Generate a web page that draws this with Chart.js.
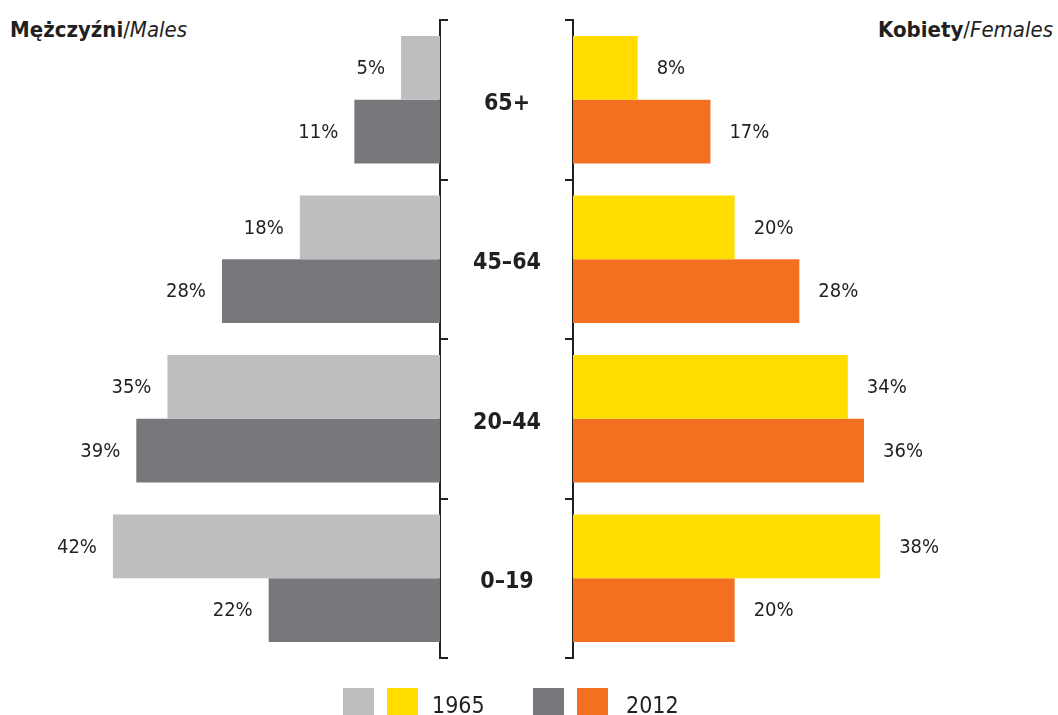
<!DOCTYPE html>
<html>
<head>
<meta charset="utf-8">
<script src="https://cdn.jsdelivr.net/npm/chart.js@4/dist/chart.umd.min.js"></script>
<style>
  html, body { margin: 0; padding: 0; background: #fff; }
  #wrap { position: relative; width: 1058px; height: 715px; overflow: hidden; font-family: 'Liberation Sans Narrow', 'DejaVu Sans Condensed', 'Roboto Condensed', 'Liberation Sans', sans-serif; color: #231f20; }
  .box { position: absolute; top: 0; height: 715px; }
  .title { position: absolute; top: 15px; font-size: 22px; line-height: 30px; white-space: nowrap; }
  .title b { font-weight: bold; }
  .title i { font-style: italic; }
  .sw { position: absolute; top: 688px; width: 31px; height: 40px; }
  .lt { position: absolute; top: 689px; font-size: 23px; line-height: 32px; }
</style>
</head>
<body>
<div id="wrap">
  <div class="title" style="left:10px;"><b>Mężczyźni</b>/<i>Males</i></div>
  <div class="title" style="right:5px;"><b>Kobiety</b>/<i>Females</i></div>
  <div class="box" style="left:0;width:448px;"><canvas id="males"></canvas></div>
  <div class="box" style="left:441px;width:617px;"><canvas id="females"></canvas></div>
  <div class="sw" style="left:343px;background:#bcbec0;"></div>
  <div class="sw" style="left:387px;background:#ffdd00;"></div>
  <div class="lt" style="left:432px;">1965</div>
  <div class="sw" style="left:533px;background:#77787b;"></div>
  <div class="sw" style="left:577px;background:#f37021;"></div>
  <div class="lt" style="left:626px;">2012</div>
</div>
<script>
const ageGroups = ['65+', '45–64', '20–44', '0–19'];
const years = ['1965', '2012'];
const males1965 = [5, 18, 35, 42];
const males2012 = [11, 28, 39, 22];
const females1965 = [8, 20, 34, 38];
const females2012 = [17, 28, 36, 20];

const FONT = "'Liberation Sans Narrow', 'DejaVu Sans Condensed', 'Roboto Condensed', 'Liberation Sans', sans-serif";
const INK = '#231f20';

const valueLabels = {
  id: 'valueLabels',
  afterDatasetsDraw(chart, args, opts) {
    const ctx = chart.ctx;
    ctx.save();
    ctx.font = '20px ' + FONT;
    ctx.fillStyle = INK;
    ctx.textBaseline = 'middle';
    chart.data.datasets.forEach((ds, di) => {
      const meta = chart.getDatasetMeta(di);
      meta.data.forEach((bar, i) => {
        const txt = ds.data[i] + '%';
        if (opts.side === 'left') {
          ctx.textAlign = 'right';
          ctx.fillText(txt, bar.x - 16, bar.y + 1);
        } else {
          ctx.textAlign = 'left';
          ctx.fillText(txt, bar.x + 19, bar.y + 1);
        }
      });
    });
    ctx.restore();
  }
};

const centerLabels = {
  id: 'centerLabels',
  afterDraw(chart) {
    const ctx = chart.ctx;
    const y = chart.scales.y;
    ctx.save();
    ctx.font = 'bold 23px ' + FONT;
    ctx.fillStyle = INK;
    ctx.textAlign = 'center';
    ctx.textBaseline = 'middle';
    const cx = chart.chartArea.left / 2;
    chart.data.labels.forEach((lab, i) => {
      ctx.fillText(lab, cx, y.getPixelForValue(i) + 4);
    });
    ctx.restore();
  }
};

function yAxis(pos) {
  return {
    position: pos,
    grid: { drawOnChartArea: false, drawTicks: true, tickLength: 8, color: INK, lineWidth: 2 },
    border: { display: true, color: INK, width: 2 },
    ticks: { display: false }
  };
}

new Chart(document.getElementById('males'), {
  type: 'bar',
  data: {
    labels: ageGroups,
    datasets: [
      { label: years[0], data: males1965, backgroundColor: '#bcbec0' },
      { label: years[1], data: males2012, backgroundColor: '#77787b' }
    ]
  },
  options: {
    indexAxis: 'y',
    responsive: true,
    maintainAspectRatio: false,
    animation: false,
    categoryPercentage: 0.8,
    barPercentage: 1,
    layout: { padding: { top: 20, bottom: 57, left: 0, right: 0 } },
    scales: {
      x: { display: false, reverse: true, min: 0, max: 56.5 },
      y: yAxis('right')
    },
    plugins: { legend: { display: false }, tooltip: { enabled: false }, valueLabels: { side: 'left' } }
  },
  plugins: [valueLabels]
});

new Chart(document.getElementById('females'), {
  type: 'bar',
  data: {
    labels: ageGroups,
    datasets: [
      { label: years[0], data: females1965, backgroundColor: '#ffdd00' },
      { label: years[1], data: females2012, backgroundColor: '#f37021' }
    ]
  },
  options: {
    indexAxis: 'y',
    responsive: true,
    maintainAspectRatio: false,
    animation: false,
    categoryPercentage: 0.8,
    barPercentage: 1,
    layout: { padding: { top: 20, bottom: 57, left: 124, right: 0 } },
    scales: {
      x: { display: false, min: 0, max: 60 },
      y: yAxis('left')
    },
    plugins: { legend: { display: false }, tooltip: { enabled: false }, valueLabels: { side: 'right' } }
  },
  plugins: [valueLabels, centerLabels]
});
</script>
</body>
</html>
